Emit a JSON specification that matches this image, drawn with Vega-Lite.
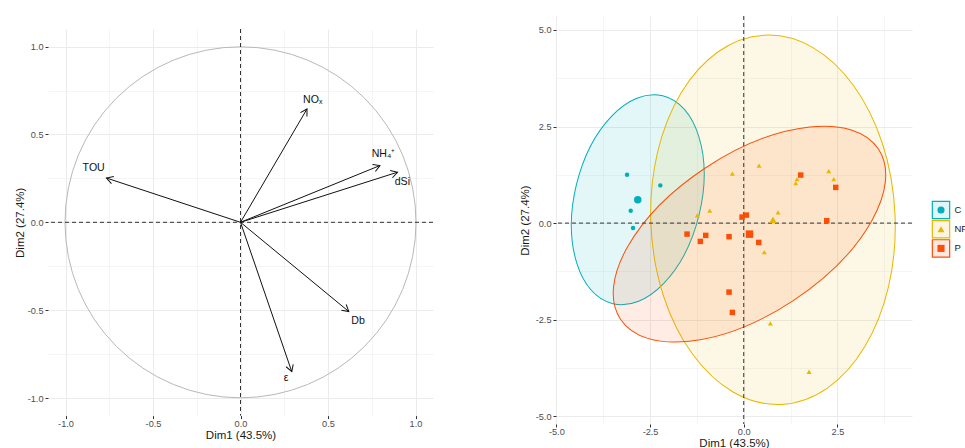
{
  "$schema": "https://vega.github.io/schema/vega-lite/v6.json",
  "padding": {"left": 14, "top": 15, "right": 0, "bottom": 0},
  "background": "white",
  "config": {
    "view": {"stroke": null},
    "font": "Liberation Sans",
    "axis": {
      "domain": false,
      "tickColor": "#333333",
      "tickSize": 3,
      "tickWidth": 1,
      "labelColor": "#4D4D4D",
      "labelFontSize": 9.2,
      "labelFont": "Liberation Sans",
      "titleFont": "Liberation Sans",
      "titleFontSize": 11.5,
      "titleColor": "#1A1A1A",
      "titleFontWeight": "normal",
      "gridColor": "#EBEBEB",
      "labelFlush": false,
      "labelOverlap": false,
      "labelPadding": 2
    },
    "axisX": {"labelPadding": 0.5}
  },
  "datasets": {
    "vars": [
      {"name": "TOU", "x": -0.766, "y": 0.252, "lx": -0.839, "ly": 0.308},
      {"name": "NOₓ", "x": 0.38, "y": 0.645, "lx": 0.413, "ly": 0.696},
      {"name": "NH₄⁺", "x": 0.797, "y": 0.323, "lx": 0.817, "ly": 0.391},
      {"name": "dSi", "x": 0.897, "y": 0.285, "lx": 0.925, "ly": 0.23},
      {"name": "Db", "x": 0.619, "y": -0.508, "lx": 0.672, "ly": -0.562},
      {"name": "ε", "x": 0.293, "y": -0.85, "lx": 0.261, "ly": -0.887}
    ],
    "ind": [
      {"grp": "C", "x": -3.114, "y": 1.253},
      {"grp": "C", "x": -2.226, "y": 0.976},
      {"grp": "C", "x": -3.016, "y": 0.321},
      {"grp": "C", "x": -2.954, "y": -0.129},
      {"grp": "NP", "x": 0.408, "y": 1.486},
      {"grp": "NP", "x": -0.304, "y": 1.279},
      {"grp": "NP", "x": 2.268, "y": 1.346},
      {"grp": "NP", "x": 2.402, "y": 1.139},
      {"grp": "NP", "x": 1.422, "y": 1.139},
      {"grp": "NP", "x": 1.388, "y": 1.036},
      {"grp": "NP", "x": -0.907, "y": 0.321},
      {"grp": "NP", "x": -1.238, "y": 0.199},
      {"grp": "NP", "x": 0.915, "y": 0.277},
      {"grp": "NP", "x": 0.55, "y": -0.751},
      {"grp": "NP", "x": 0.71, "y": -2.596},
      {"grp": "NP", "x": 1.743, "y": -3.847},
      {"grp": "P", "x": 1.521, "y": 1.243},
      {"grp": "P", "x": 2.455, "y": 0.924},
      {"grp": "P", "x": 0.069, "y": 0.207},
      {"grp": "P", "x": -0.045, "y": 0.155},
      {"grp": "P", "x": 2.215, "y": 0.062},
      {"grp": "P", "x": -1.513, "y": -0.285},
      {"grp": "P", "x": -1.014, "y": -0.318},
      {"grp": "P", "x": -1.158, "y": -0.474},
      {"grp": "P", "x": -0.392, "y": -0.352},
      {"grp": "P", "x": 0.4, "y": -0.5},
      {"grp": "P", "x": -0.392, "y": -1.786},
      {"grp": "P", "x": -0.304, "y": -2.312}
    ],
    "means": [
      {"grp": "C", "x": -2.828, "y": 0.605},
      {"grp": "NP", "x": 0.78, "y": 0.086},
      {"grp": "P", "x": 0.153, "y": -0.286}
    ],
    "groups": [
      {"grp": "C"},
      {"grp": "NP"},
      {"grp": "P"}
    ]
  },
  "spacing": 85,
  "hconcat": [
    {
      "spacing": 0,
      "vconcat": [
        {
          "width": 385,
          "height": 11.7,
          "data": {"values": []},
          "mark": {"type": "point", "opacity": 0},
          "encoding": {}
        },
        {
          "width": 385,
          "height": 386.6,
          "layer": [
            {
              "data": {"values": [{"cx": 0, "cy": 0}]},
              "mark": {"type": "point", "shape": "circle", "size": 123201, "filled": false, "stroke": "#B8B8B8", "strokeWidth": 1, "opacity": 1},
              "encoding": {
                "x": {
                  "field": "cx", "type": "quantitative", "title": "Dim1 (43.5%)",
                  "scale": {"domain": [-1.1, 1.1], "nice": false, "zero": false},
                  "axis": {
                    "values": [-1, -0.75, -0.5, -0.25, 0, 0.25, 0.5, 0.75, 1],
                    "labelExpr": "abs(datum.value*2-round(datum.value*2))<0.01 ? replace(format(datum.value,'.1f'),'\u2212','-') : ''",
                    "tickOpacity": {"condition": {"test": "abs(datum.value*2-round(datum.value*2))<0.01", "value": 1}, "value": 0},
                    "gridWidth": {"condition": {"test": "abs(datum.value*2-round(datum.value*2))<0.01", "value": 1}, "value": 0.5},
                    "titlePadding": 1
                  }
                },
                "y": {
                  "field": "cy", "type": "quantitative", "title": "Dim2 (27.4%)",
                  "scale": {"domain": [-1.1, 1.1], "nice": false, "zero": false},
                  "axis": {
                    "values": [-1, -0.75, -0.5, -0.25, 0, 0.25, 0.5, 0.75, 1],
                    "labelExpr": "abs(datum.value*2-round(datum.value*2))<0.01 ? replace(format(datum.value,'.1f'),'\u2212','-') : ''",
                    "tickOpacity": {"condition": {"test": "abs(datum.value*2-round(datum.value*2))<0.01", "value": 1}, "value": 0},
                    "gridWidth": {"condition": {"test": "abs(datum.value*2-round(datum.value*2))<0.01", "value": 1}, "value": 0.5},
                    "titlePadding": 2
                  }
                }
              }
            },
            {
              "data": {"values": [{"v": 0}]},
              "mark": {"type": "rule", "strokeDash": [4, 3], "color": "#333333", "strokeWidth": 1},
              "encoding": {"y": {"field": "v", "type": "quantitative", "title": "Dim2 (27.4%)"}}
            },
            {
              "data": {"values": [{"v": 0}]},
              "mark": {"type": "rule", "strokeDash": [4, 3], "color": "#333333", "strokeWidth": 1},
              "encoding": {"x": {"field": "v", "type": "quantitative", "title": "Dim1 (43.5%)"}}
            },
            {
              "data": {"name": "vars"},
              "mark": {"type": "rule", "color": "#111111", "strokeWidth": 1},
              "encoding": {
                "x": {"field": "x", "type": "quantitative", "title": "Dim1 (43.5%)"},
                "y": {"field": "y", "type": "quantitative", "title": "Dim2 (27.4%)"},
                "x2": {"datum": 0},
                "y2": {"datum": 0}
              }
            },
            {
              "data": {"name": "vars"},
              "transform": [{"calculate": "90 - atan2(datum.y, datum.x) * 180 / PI", "as": "heading"}],
              "mark": {"type": "point", "shape": "M -0.5 0.866 L 0 0 L 0.5 0.866", "size": 225, "filled": false, "stroke": "#111111", "strokeWidth": 1, "opacity": 1},
              "encoding": {
                "x": {"field": "x", "type": "quantitative", "title": "Dim1 (43.5%)"},
                "y": {"field": "y", "type": "quantitative", "title": "Dim2 (27.4%)"},
                "angle": {"field": "heading", "type": "quantitative", "scale": null}
              }
            },
            {
              "data": {"name": "vars"},
              "mark": {"type": "text", "fontSize": 10.6, "color": "#111111", "align": "center", "baseline": "middle", "font": "Liberation Sans"},
              "encoding": {
                "x": {"field": "lx", "type": "quantitative", "title": "Dim1 (43.5%)"},
                "y": {"field": "ly", "type": "quantitative", "title": "Dim2 (27.4%)"},
                "text": {"field": "name"}
              }
            }
          ]
        }
      ]
    },
    {
      "spacing": 16,
      "hconcat": [
        {
          "width": 356,
          "height": 408,
          "layer": [
            {
              "data": {"name": "means"},
              "transform": [{"filter": "datum.grp == 'C'"}],
              "mark": {"type": "point", "shape": "M 1 0 C 1 0.3264 0.5523 0.591 0 0.591 C -0.5523 0.591 -1 0.3264 -1 0 C -1 -0.3264 -0.5523 -0.591 0 -0.591 C 0.5523 -0.591 1 -0.3264 1 0 Z", "size": 45710, "angle": -76.5, "filled": true, "fill": "#00AFBB", "fillOpacity": 0.11, "stroke": "#00AFBB", "strokeWidth": 1, "strokeOpacity": 1, "opacity": 1},
              "encoding": {
                "x": {
                  "field": "x", "type": "quantitative", "title": "Dim1 (43.5%)",
                  "scale": {"domain": [-5.01, 4.49], "nice": false, "zero": false},
                  "axis": {
                    "values": [-5, -3.75, -2.5, -1.25, 0, 1.25, 2.5, 3.75],
                    "labelExpr": "abs(datum.value/2.5-round(datum.value/2.5))<0.01 ? replace(format(datum.value,'.1f'),'\u2212','-') : ''",
                    "tickOpacity": {"condition": {"test": "abs(datum.value/2.5-round(datum.value/2.5))<0.01", "value": 1}, "value": 0},
                    "gridWidth": {"condition": {"test": "abs(datum.value/2.5-round(datum.value/2.5))<0.01", "value": 1}, "value": 0.5},
                    "titlePadding": 1
                  }
                },
                "y": {
                  "field": "y", "type": "quantitative", "title": "Dim2 (27.4%)",
                  "scale": {"domain": [-5.2, 5.36], "nice": false, "zero": false},
                  "axis": {
                    "values": [-5, -3.75, -2.5, -1.25, 0, 1.25, 2.5, 3.75, 5],
                    "labelExpr": "abs(datum.value/2.5-round(datum.value/2.5))<0.01 ? replace(format(datum.value,'.1f'),'\u2212','-') : ''",
                    "tickOpacity": {"condition": {"test": "abs(datum.value/2.5-round(datum.value/2.5))<0.01", "value": 1}, "value": 0},
                    "gridWidth": {"condition": {"test": "abs(datum.value/2.5-round(datum.value/2.5))<0.01", "value": 1}, "value": 0.5},
                    "titlePadding": 5
                  }
                }
              }
            },
            {
              "data": {"name": "means"},
              "transform": [{"filter": "datum.grp == 'NP'"}],
              "mark": {"type": "point", "shape": "M 1 0 C 1 0.364 0.5523 0.661 0 0.661 C -0.5523 0.661 -1 0.364 -1 0 C -1 -0.364 -0.5523 -0.661 0 -0.661 C 0.5523 -0.661 1 -0.364 1 0 Z", "size": 136600, "angle": 87.5, "filled": true, "fill": "#E7B800", "fillOpacity": 0.1, "stroke": "#E7B800", "strokeWidth": 1, "strokeOpacity": 1, "opacity": 1},
              "encoding": {
                "x": {"field": "x", "type": "quantitative", "title": "Dim1 (43.5%)"},
                "y": {"field": "y", "type": "quantitative", "title": "Dim2 (27.4%)"}
              }
            },
            {
              "data": {"name": "means"},
              "transform": [{"filter": "datum.grp == 'P'"}],
              "mark": {"type": "point", "shape": "M 1 0 C 1 0.2844 0.5523 0.515 0 0.515 C -0.5523 0.515 -1 0.2844 -1 0 C -1 -0.2844 -0.5523 -0.515 0 -0.515 C 0.5523 -0.515 1 -0.2844 1 0 Z", "size": 95481, "angle": -33.4, "filled": true, "fill": "#FC4E07", "fillOpacity": 0.11, "stroke": "#FC4E07", "strokeWidth": 1, "strokeOpacity": 1, "opacity": 1},
              "encoding": {
                "x": {"field": "x", "type": "quantitative", "title": "Dim1 (43.5%)"},
                "y": {"field": "y", "type": "quantitative", "title": "Dim2 (27.4%)"}
              }
            },
            {
              "data": {"values": [{"v": 0}]},
              "mark": {"type": "rule", "strokeDash": [4, 3], "color": "#333333", "strokeWidth": 1},
              "encoding": {"y": {"field": "v", "type": "quantitative", "title": "Dim2 (27.4%)"}}
            },
            {
              "data": {"values": [{"v": 0}]},
              "mark": {"type": "rule", "strokeDash": [4, 3], "color": "#333333", "strokeWidth": 1},
              "encoding": {"x": {"field": "v", "type": "quantitative", "title": "Dim1 (43.5%)"}}
            },
            {
              "data": {"name": "ind"},
              "mark": {"type": "point", "filled": true, "opacity": 1},
              "encoding": {
                "x": {"field": "x", "type": "quantitative", "title": "Dim1 (43.5%)"},
                "y": {"field": "y", "type": "quantitative", "title": "Dim2 (27.4%)"},
                "color": {"field": "grp", "type": "nominal", "scale": {"domain": ["C", "NP", "P"], "range": ["#00AFBB", "#E7B800", "#FC4E07"]}, "legend": null},
                "shape": {"field": "grp", "type": "nominal", "scale": {"domain": ["C", "NP", "P"], "range": ["circle", "triangle-up", "square"]}, "legend": null},
                "size": {"field": "grp", "type": "nominal", "scale": {"domain": ["C", "NP", "P"], "range": [20, 30, 19]}, "legend": null}
              }
            },
            {
              "data": {"name": "means"},
              "mark": {"type": "point", "filled": true, "size": 56, "opacity": 1},
              "encoding": {
                "x": {"field": "x", "type": "quantitative", "title": "Dim1 (43.5%)"},
                "y": {"field": "y", "type": "quantitative", "title": "Dim2 (27.4%)"},
                "color": {"field": "grp", "type": "nominal", "legend": null},
                "shape": {"field": "grp", "type": "nominal", "legend": null}
              }
            }
          ]
        },
        {
          "width": 35,
          "height": 408,
          "data": {"name": "groups"},
          "encoding": {
            "y": {"field": "grp", "type": "nominal", "scale": {"domain": ["C", "NP", "P"], "range": [194, 232.4], "padding": 0}, "axis": null}
          },
          "layer": [
            {
              "mark": {"type": "point", "shape": "square", "size": 300, "filled": true, "fillOpacity": 0.12, "strokeWidth": 1.2, "opacity": 1, "xOffset": -7.5},
              "encoding": {
                "fill": {"field": "grp", "type": "nominal", "scale": {"domain": ["C", "NP", "P"], "range": ["#00AFBB", "#E7B800", "#FC4E07"]}, "legend": null},
                "stroke": {"field": "grp", "type": "nominal", "scale": {"domain": ["C", "NP", "P"], "range": ["#00AFBB", "#E7B800", "#FC4E07"]}, "legend": null}
              }
            },
            {
              "mark": {"type": "point", "filled": true, "size": 50, "opacity": 1, "xOffset": -7.5},
              "encoding": {
                "color": {"field": "grp", "type": "nominal", "scale": {"domain": ["C", "NP", "P"], "range": ["#00AFBB", "#E7B800", "#FC4E07"]}, "legend": null},
                "shape": {"field": "grp", "type": "nominal", "scale": {"domain": ["C", "NP", "P"], "range": ["circle", "triangle-up", "square"]}, "legend": null}
              }
            },
            {
              "mark": {"type": "text", "align": "left", "baseline": "middle", "dx": 6, "fontSize": 9.5, "color": "#1A1A1A", "clip": true, "font": "Liberation Sans"},
              "encoding": {"text": {"field": "grp"}}
            }
          ]
        }
      ]
    }
  ]
}
